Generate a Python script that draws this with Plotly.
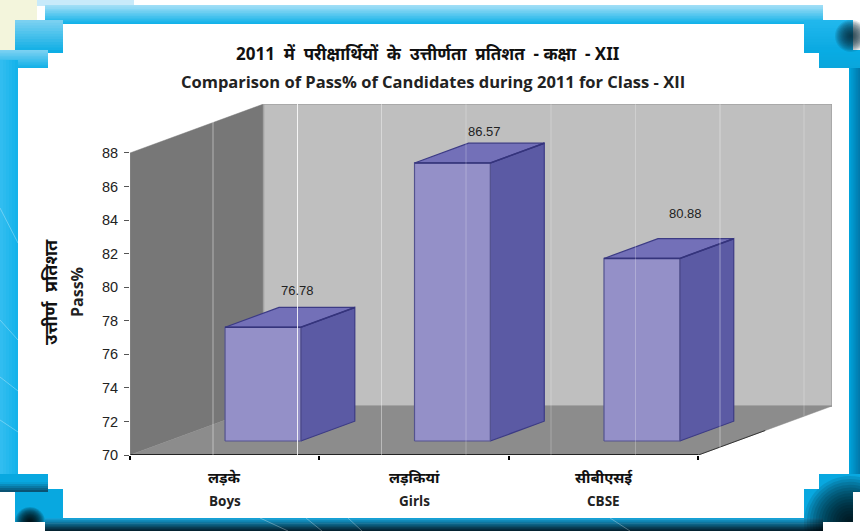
import plotly.graph_objects as go

# ---------- data ----------
categories_hi = ["लड़के", "लड़कियां", "सीबीएसई"]
categories_en = ["Boys", "Girls", "CBSE"]
pass_pct = [76.78, 86.57, 80.88]
y_ticks = [70, 72, 74, 76, 78, 80, 82, 84, 86, 88]
title_hi = "2011  में  परीक्षार्थियों  के  उत्तीर्णता  प्रतिशत  - कक्षा  - XII"
title_en = "Comparison of Pass% of Candidates during 2011 for Class - XII"
axis_hi = "उत्तीर्ण  प्रतिशत"
axis_en = "Pass%"

# ---------- geometry / style ----------
W, H = 860, 531
ML, MR, MT, MB = 130, 28, 104, 76
Y0 = 70
DX = 0.705          # depth of the chart box, category units
DY = 2.92           # depth of the chart box, value units
BAR_W = 0.40
F0, F1 = 0.286, 0.69   # depth fractions of bar front/back
XMAX = len(categories_en) + DX
YMAX = 88 + DY
label_off = [(0.18, 2.2), (0.17, 1.9), (0.23, 2.7)]  # hand placed value labels
SANS = "Open Sans, Noto Sans, sans-serif"
HI = "Noto Sans, Open Sans, sans-serif"
ARIAL = "Liberation Sans, Arial, sans-serif"


def hexmix(a, b, t):
    a = [int(a[i:i + 2], 16) for i in (1, 3, 5)]
    b = [int(b[i:i + 2], 16) for i in (1, 3, 5)]
    return "rgb(%d,%d,%d)" % tuple(round(p + (q - p) * t) for p, q in zip(a, b))


def px(x):
    return (x - ML) / (W - ML - MR)


def py(y):
    return 1 - (y - MT) / (H - MT - MB)


shapes = []


def rect(x0, y0, x1, y1, color, layer="below"):
    shapes.append(dict(type="rect", xref="paper", yref="paper", x0=px(x0), x1=px(x1), y0=py(y0), y1=py(y1),
                       fillcolor=color, line=dict(width=0), layer=layer))


def grad(x0, y0, x1, y1, c0, c1, vertical=True, n=12):
    for i in range(n):
        t = i / n
        u = (i + 1.4) / n
        c = hexmix(c0, c1, (i + 0.5) / n)
        if vertical:
            rect(x0, y0 + (y1 - y0) * t, x1, min(y1, y0 + (y1 - y0) * u), c)
        else:
            rect(x0 + (x1 - x0) * t, y0, min(x1, x0 + (x1 - x0) * u), y1, c)


def blotch(cx, cy, r, color, steps=14, op=0.1):
    for i in range(steps):
        rr = r * (1 - i / steps)
        shapes.append(dict(type="circle", xref="paper", yref="paper", x0=px(cx - rr), x1=px(cx + rr),
                           y0=py(cy - rr), y1=py(cy + rr), fillcolor=color, opacity=op,
                           line=dict(width=0), layer="below"))


def seg(x0, y0, x1, y1, color="#ffffff", op=0.4, w=1, layer="below"):
    shapes.append(dict(type="line", xref="paper", yref="paper", x0=px(x0), x1=px(x1), y0=py(y0), y1=py(y1),
                       line=dict(color=color, width=w), opacity=op, layer=layer))


# page corner and border
rect(0, 0, 37, 20, "#f3f5dc")
rect(0, 20, 15, 50, "#f3f5dc")
rect(37, 0, 134, 6, "#c8eafa")
grad(45, 5, 823, 24, "#a6e0f7", "#0cb0e8")
grad(15, 20, 63, 53, "#7fd2f2", "#08ace4")
grad(0, 50, 48, 68, "#7fd2f2", "#10b0e8")
grad(0, 60, 18, 492, "#34bef0", "#12b2ea", vertical=False, n=6)
grad(849, 60, 860, 480, "#00a6de", "#0076a8", vertical=False, n=6)
grad(804, 20, 853, 53, "#22b8ee", "#08a8e0")
grad(819, 50, 860, 68, "#08ace4", "#0aa6dc")
blotch(851, 36, 16, "#0c2a3a", op=0.12)
rect(15, 489, 63, 522, "#08a8e0")
rect(0, 474, 48, 492, "#08a8e0")
grad(0, 482, 48, 492, "#08a8e0", "#0a4a68", n=5)
rect(804, 489, 853, 522, "#08a8e0")
rect(819, 474, 860, 492, "#08a8e0")
grad(45, 518, 823, 531, "#14a8e0", "#041c28", n=10)
blotch(30, 522, 15, "#000000", op=0.14)
blotch(850, 522, 46, "#000000", steps=16, op=0.1)
rect(0, 492, 15, 531, "#ffffff")
rect(15, 522, 45, 531, "#ffffff")
rect(853, 492, 860, 531, "#ffffff")
rect(823, 522, 853, 531, "#ffffff")
for a, b, c, d in [(0, 208, 18, 243), (0, 320, 18, 340), (0, 377, 18, 391), (0, 420, 18, 432)]:
    seg(a, b, c, d, op=0.3)
for a, c in [(260, 288), (306, 322), (348, 362), (610, 630)]:
    seg(a, 518, c, 531, op=0.3)

# white sheet
rect(63, 24, 804, 53, "#ffffff")
rect(48, 53, 819, 68, "#ffffff")
rect(18, 68, 849, 474, "#ffffff")
rect(48, 474, 819, 489, "#ffffff")
rect(63, 489, 804, 518, "#ffffff")

fig = go.Figure()


def face(xs, ys, fill, line, w=1.2):
    fig.add_trace(go.Scatter(x=xs + xs[:1], y=ys + ys[:1], mode="lines", fill="toself", fillcolor=fill,
                             line=dict(color=line, width=w), hoverinfo="skip", showlegend=False))


n = len(categories_en)
# chart box
face([0, 0, DX, DX], [Y0, 88, 88 + DY, Y0 + DY], "#777777", "#777777", 0.5)
face([DX, DX, n + DX, n + DX], [Y0 + DY, 88 + DY, 88 + DY, Y0 + DY], "#bfbfbf", "#a2a2a2", 1.5)
face([0, n, n + DX, DX], [Y0, Y0, Y0 + DY, Y0 + DY], "#8c8c8c", "#8c8c8c", 0.5)
# front edge of the box
fig.add_trace(go.Scatter(x=[0, n], y=[Y0, Y0], mode="lines", line=dict(color="#000000", width=1.5),
                         hoverinfo="skip", showlegend=False, cliponaxis=False))
fig.add_trace(go.Scatter(x=[n, n + DX * 0.5], y=[Y0, Y0 + DY * 0.5], mode="lines",
                         line=dict(color="#333333", width=1), hoverinfo="skip", showlegend=False))
fig.add_trace(go.Scatter(x=[0, 0], y=[Y0, 88], mode="lines", line=dict(color="#8a8a8a", width=1),
                         hoverinfo="skip", showlegend=False, cliponaxis=False))

# bars
annotations = []
for i, v in enumerate(pass_pct):
    cx = i + 0.5
    fx0 = cx - BAR_W / 2 + DX * F0
    fx1 = cx + BAR_W / 2 + DX * F0
    fb = Y0 + DY * F0
    ft = v + DY * F0
    sx = DX * (F1 - F0)
    sy = DY * (F1 - F0)
    face([fx1, fx1 + sx, fx1 + sx, fx1], [fb, fb + sy, ft + sy, ft], "#5b5aa4", "#3c3b85")
    face([fx0, fx1, fx1 + sx, fx0 + sx], [ft, ft, ft + sy, ft + sy], "#7370b8", "#3c3b85")
    face([fx0, fx1, fx1, fx0], [fb, fb, ft, ft], "#9490c8", "#54538f")
    fig.add_trace(go.Scatter(x=[fx0, fx1, fx1 + sx], y=[ft, ft, ft + sy], mode="lines",
                             line=dict(color="#35347c", width=1.6), hoverinfo="skip", showlegend=False))
    annotations.append(dict(x=cx + DX * F0 + label_off[i][0], y=ft + label_off[i][1], xref="x", yref="y",
                            text=f"{v:.2f}", showarrow=False, xanchor="center", yanchor="middle",
                            font=dict(family=ARIAL, size=13, color="#222222")))
    annotations.append(dict(x=cx, xref="x", y=py(477), yref="paper", text=f"<b>{categories_hi[i]}</b>",
                            showarrow=False, xanchor="center", yanchor="middle",
                            font=dict(family=HI, size=15, color="#111111")))
    annotations.append(dict(x=cx, xref="x", y=py(501), yref="paper", text=f"<b>{categories_en[i]}</b>",
                            showarrow=False, xanchor="center", yanchor="middle",
                            font=dict(family=SANS, size=13.5, color="#222222")))

# image seams crossing the picture
for x, top, bottom, op in [(213, 121, 455, 0.45), (297.5, 104, 455, 0.85), (381.5, 104, 456, 0.4),
                           (466, 104, 455, 0.25), (551, 104, 455, 0.25), (635.5, 104, 455, 0.25),
                           (720, 104, 448, 0.4), (804, 104, 416, 0.25)]:
    seg(x, top, x, bottom, op=op, layer="above")

# text
n_data_notes = len(annotations)
annotations += [
    dict(x=428, y=54, text=f"<b>{title_hi}</b>", font=dict(family=HI, size=17, color="#111111")),
    dict(x=433, y=82, text=f"<b>{title_en}</b>", font=dict(family=SANS, size=16.5, color="#222222")),
    dict(x=50, y=292, text=f"<b>{axis_hi}</b>", textangle=-90, font=dict(family=HI, size=18, color="#111111")),
    dict(x=77, y=292, text=f"<b>{axis_en}</b>", textangle=-90, font=dict(family=SANS, size=16, color="#222222")),
]
for a in annotations[n_data_notes:]:
    a.update(x=px(a["x"]), y=py(a["y"]), xref="paper", yref="paper", showarrow=False,
             xanchor="center", yanchor="middle")

fig.update_layout(
    width=W, height=H, autosize=False, margin=dict(l=ML, r=MR, t=MT, b=MB, pad=0),
    paper_bgcolor="#ffffff", plot_bgcolor="rgba(0,0,0,0)", showlegend=False,
    shapes=shapes, annotations=annotations,
    xaxis=dict(range=[0, XMAX], showgrid=False, zeroline=False, showline=False, fixedrange=True,
               tickvals=list(range(n + 1)), ticks="outside", ticklen=4, tickcolor="#000000", tickwidth=1.5,
               showticklabels=False),
    yaxis=dict(range=[Y0, YMAX], showgrid=False, zeroline=False, showline=False, fixedrange=True,
               tickvals=y_ticks, ticks="outside", ticklen=5, tickcolor="#555555", tickwidth=1,
               ticklabelstandoff=3, tickfont=dict(family=ARIAL, size=14.5, color="#222222")),
)
fig.write_html("out.html", config=dict(displayModeBar=False),
               post_script="document.body.style.margin='0';document.documentElement.style.overflow='hidden';")
